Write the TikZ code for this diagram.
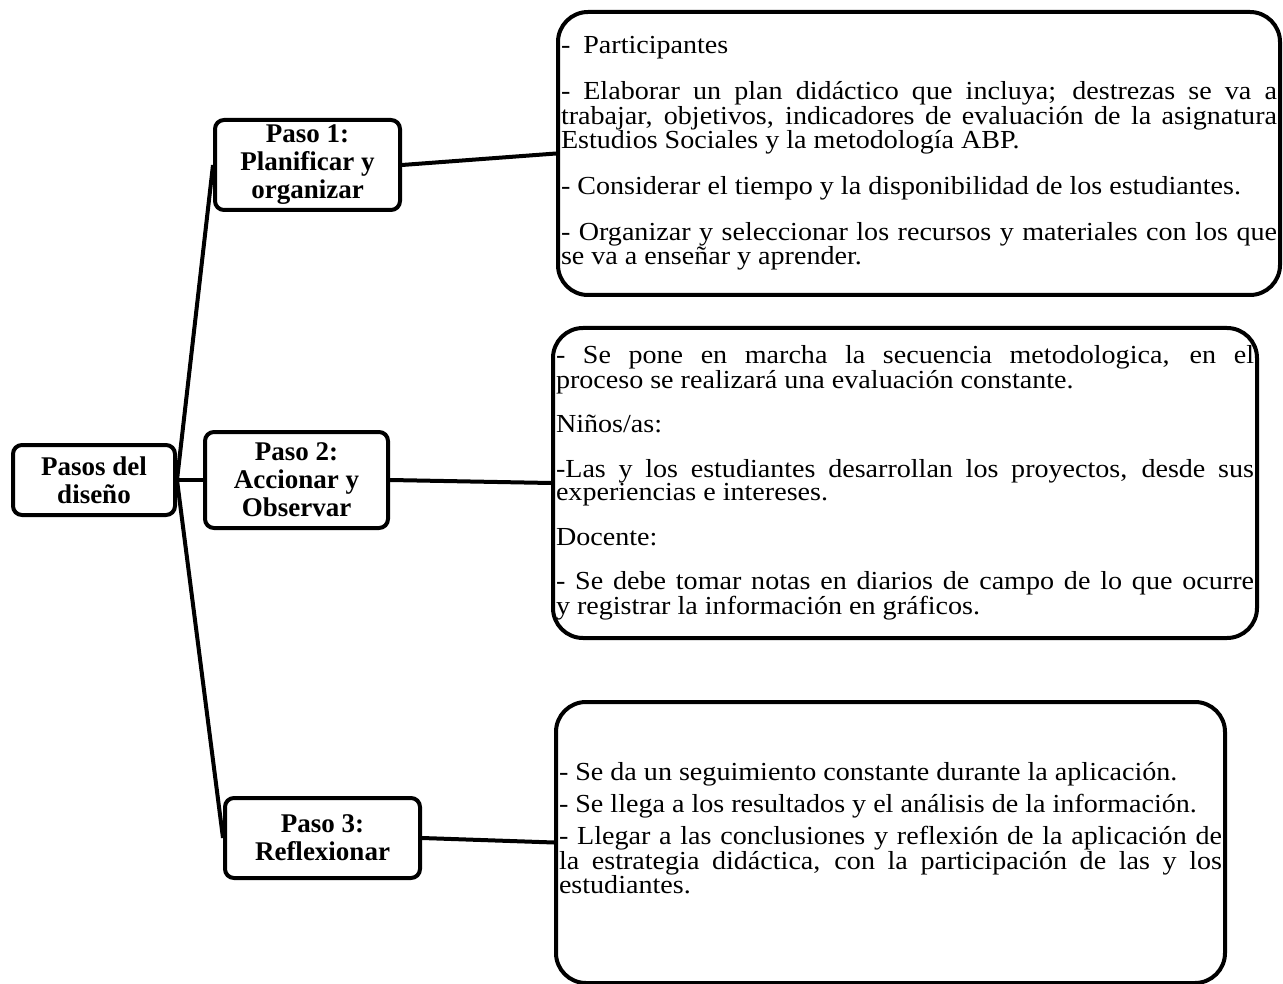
\documentclass[tikz,border=0pt]{standalone}
\usepackage{fontspec}
\setmainfont{Liberation Serif}
\newfontfamily\bodyfont{Liberation Serif}[FakeStretch=1.08]
\usetikzlibrary{calc}

\begin{document}
\begin{tikzpicture}[x=1pt, y=-1pt,
    paso/.style={draw, line width=4pt, rounded corners=9pt, align=center, inner sep=0pt,
      font=\fontsize{27}{28}\selectfont\bfseries},
    texto/.style={draw, line width=4pt, rounded corners=30pt, inner xsep=3pt, inner ysep=0pt,
      align=justify, font=\bodyfont\fontsize{26}{23.5}\selectfont,
      execute at begin node={\parindent=0pt\tolerance=10000\hbadness=10000\hyphenpenalty=10000\exhyphenpenalty=10000}}]
  \useasboundingbox (0,0) rectangle (1283,984);

  \node[paso, minimum width=162pt, minimum height=70pt] (0) at (94,480) {Pasos del\\diseño};
  \node[paso, minimum width=185pt, minimum height=90pt] (1) at (307.5,165) {Paso 1:\\Planificar y\\organizar};
  \node[paso, minimum width=183pt, minimum height=96pt] (2) at (296.5,480) {Paso 2:\\Accionar y\\Observar};
  \node[paso, minimum width=195pt, minimum height=80pt] (3) at (322.5,838) {Paso 3:\\Reflexionar};

  \node[texto, text width=716pt, minimum height=283pt] (1t) at (919,153.5) {\parskip=21pt
    -\enspace Participantes\par
    -\enspace Elaborar un plan didáctico que incluya; destrezas se va a\linebreak
    trabajar, objetivos, indicadores de evaluación de la asignatura\linebreak
    Estudios Sociales y la metodología ABP.\par
    - Considerar el tiempo y la disponibilidad de los estudiantes.\par
    - Organizar y seleccionar los recursos y materiales con los que\linebreak
    se va a enseñar y aprender.};
  \node[texto, text width=698pt, minimum height=310pt] (2t) at (905,483) {\parskip=21pt
    - Se pone en marcha la secuencia metodologica, en el\linebreak
    proceso se realizará una evaluación constante.\par
    Niños/as:\par
    -Las y los estudiantes desarrollan los proyectos, desde sus\linebreak
    experiencias e intereses.\par
    Docente:\par
    - Se debe tomar notas en diarios de campo de lo que ocurre\linebreak
    y registrar la información en gráficos.};
  \node[texto, text width=663pt, minimum height=281pt] (3t) at (890.5,842.5) {\parskip=7pt
    - Se da un seguimiento constante durante la aplicación.\par
    - Se llega a los resultados y el análisis de la información.\par
    - Llegar a las conclusiones y reflexión de la aplicación de\linebreak
    la estrategia didáctica, con la participación de las y los\linebreak
    estudiantes.\par
    \vspace{28pt}\hrule height 0pt width 0pt};

  \draw[line width=4pt] (1.west) -- (0.east) -- (3.west);
  \draw[line width=4pt] (0.east) -- (2.west);
  \draw[line width=4pt] (1.east) -- (1t.west);
  \draw[line width=4pt] (2.east) -- (2t.west);
  \draw[line width=4pt] (3.east) -- (3t.west);
\end{tikzpicture}
\end{document}
